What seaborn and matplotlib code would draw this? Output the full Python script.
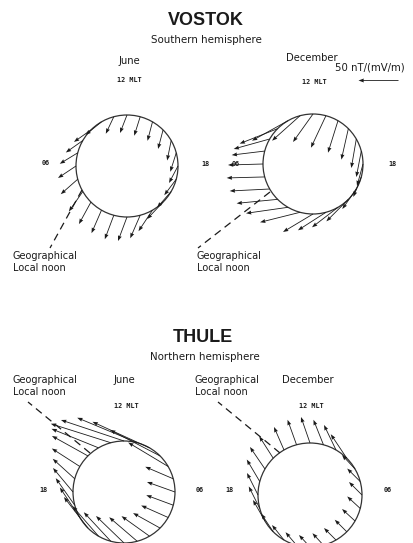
import numpy as np
import matplotlib.pyplot as plt
import seaborn as sns
from matplotlib.patches import Circle

# hourly MLT positions on each dial
hours = np.arange(24)

# equivalent current vectors (pixels, x to the right, y downwards)
vostok_june_u = [-9, -9, -10, -12, -14, -17, -18, -18, -17, -17, -16, -8,
                 -7, -6, -5, -5, -4, -6, -9, -12, -14, -16, -14, -10]
vostok_june_v = [24, 24, 23, 22, 20, 15, 12, 11, 12, 12, 13, 17,
                 18, 19, 19, 19, 20, 19, 17, 16, 16, 17, 21, 23]

vostok_dec_u = [-30, -40, -42, -41, -40, -38, -35, -33, -36, -38, -36, -28,
                -20, -15, -10, -7, -5, -5, -6, -8, -14, -22, -26, -28]
vostok_dec_v = [18, 10, 6, 4, 2, 1, 1, 4, 10, 15, 20, 25,
                28, 32, 32, 31, 29, 26, 22, 20, 20, 22, 20, 18]

thule_june_u = [-28, -28, -28, -27, -27, -27, -28, -28, -40, -50, -57, -60,
                -63, -60, -47, -36, -28, -22, -20, -19, -20, -24, -26, -27]
thule_june_v = [-27, -24, -20, -15, -12, -10, -10, -12, -24, -26, -26, -25,
                -21, -19, -19, -20, -18, -20, -24, -27, -30, -31, -30, -29]

thule_dec_u = [-11, -11, -12, -12, -13, -13, -13, -13, -13, -16, -12, -10,
               -9, -9, -10, -14, -15, -13, -11, -11, -12, -12, -12, -11]
thule_dec_v = [-12, -12, -12, -12, -12, -12, -13, -13, -14, -24, -25, -25,
               -26, -25, -23, -22, -22, -22, -22, -22, -21, -18, -15, -13]

scale_value = 50   # nT/(mV/m)
scale_pixels = 40

sns.set_theme(style="white")
plt.rcParams['font.family'] = ['DejaVu Sans']

ink = '#1a1a1a'
fig = plt.figure(figsize=(4.14, 5.43), dpi=100)
ax = fig.add_axes([0, 0, 1, 1])
ax.set_xlim(0, 414)
ax.set_ylim(543, 0)
ax.set_aspect('equal')
ax.axis('off')

qkw = dict(angles='xy', scale_units='xy', scale=1, color=ink, width=0.002,
           headwidth=4.8, headlength=6.5, headaxislength=6, zorder=3)


def dial(cx, cy, r, sign, u, v):
    ang = np.deg2rad(90 + sign * (hours - 12) * 15)
    x = cx + r * np.cos(ang)
    y = cy - r * np.sin(ang)
    ax.add_patch(Circle((cx, cy), r, fill=False, lw=0.9, ec='#333333', zorder=2))
    ax.quiver(x, y, u, v, **qkw)


# Vostok (12 MLT up, 06 on the left)
dial(127, 166, 51, -1, vostok_june_u, vostok_june_v)
dial(313, 164, 50, -1, vostok_dec_u, vostok_dec_v)
# Thule (12 MLT up, 18 on the left)
dial(124, 492, 51, 1, thule_june_u, thule_june_v)
dial(310, 495, 52, 1, thule_dec_u, thule_dec_v)

# geographical local noon
dash = dict(color=ink, lw=0.9, ls=(0, (6, 4)), zorder=2)
ax.plot([82, 50], [190, 248], **dash)
ax.plot([270, 198], [192, 248], **dash)
ax.plot([90, 28], [453, 402], **dash)
ax.plot([280, 218], [453, 402], **dash)

# scale arrow
ax.quiver([398], [80], [-scale_pixels], [0], **qkw)
ax.text(335, 67, f"{scale_value} nT/(mV/m)", fontsize=7.3, color=ink, va='center', ha='left')

# titles
for txt, x, y in [("VOSTOK", 206, 20), ("THULE", 203, 337)]:
    ax.text(x, y, txt, fontsize=13, fontweight='bold', family='Liberation Sans',
            color=ink, ha='center', va='center')
ax.text(206, 40, "Southern hemisphere", fontsize=7.4, color=ink, ha='center', va='center')
ax.text(205, 357, "Northern hemisphere", fontsize=7.4, color=ink, ha='center', va='center')

month_kw = dict(fontsize=7.2, color=ink, ha='center', va='center')
ax.text(129, 61, "June", **month_kw)
ax.text(312, 58, "December", **month_kw)
ax.text(124, 380, "June", **month_kw)
ax.text(308, 380, "December", **month_kw)

small = dict(fontsize=4.9, family='DejaVu Sans Mono', fontweight='bold', color=ink,
             ha='center', va='center')
for x, y in [(129, 80), (314, 82), (126, 406), (311, 406)]:
    ax.text(x, y, "12 MLT", **small)
for txt, x, y in [("06", 46, 163), ("18", 205, 164), ("06", 236, 164), ("18", 392, 164),
                  ("18", 43, 490), ("06", 200, 490), ("18", 229, 490), ("06", 388, 490)]:
    ax.text(x, y, txt, **small)

geo_kw = dict(fontsize=7, color=ink, ha='left', va='center', linespacing=1.25)
for x, y in [(13, 262), (197, 262), (13, 386), (195, 386)]:
    ax.text(x, y, "Geographical\nLocal noon", **geo_kw)

fig.savefig("out.png", dpi=100, facecolor='white')
